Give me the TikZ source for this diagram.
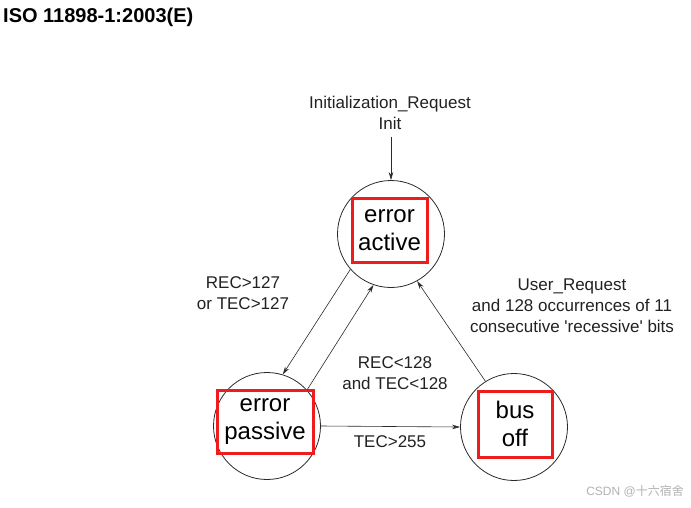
\documentclass[tikz,border=0pt]{standalone}
\usepackage{fontspec}
\setmainfont{Liberation Sans}
\newfontfamily\cjkfont{Noto Sans CJK SC}
\usetikzlibrary{arrows.meta}
\definecolor{ln}{HTML}{2A2A2A}
\definecolor{tx}{HTML}{222222}
\definecolor{redbox}{HTML}{EE1C1C}
\tikzset{
  state/.style={circle, draw=ln, line width=0.8pt, minimum size=107pt, inner sep=0pt},
  redlabel/.style={draw=redbox, line width=3pt, inner sep=0pt, align=center, text=black,
    font=\fontsize{24}{28}\selectfont},
  lbl/.style={align=center, text=tx, font=\fontsize{17}{21}\selectfont, inner sep=0pt},
  conn/.style={draw=ln, line width=0.6pt, -{Stealth[length=8pt,width=4.5pt]}}
}
\begin{document}
\begin{tikzpicture}[x=1pt,y=-1pt]
\useasboundingbox (0,0) rectangle (691,507);
\fill[white] (0,0) rectangle (691,507);
% title
\node[anchor=base west, inner sep=0pt, font=\fontsize{20}{24}\selectfont\bfseries] (title) at (3,22) {ISO 11898-1:2003(E)};
% states
\node[state] (active) at (391,234) {};
\node[state] (passive) at (267,426) {};
\node[state] (bus) at (514,427) {};
% red boxed labels
\node[redlabel, minimum width=75pt, minimum height=64pt] (activebox) at (389.5,230) {error\\active};
\node[redlabel, minimum width=96pt, minimum height=63pt] (passivebox) at (265,421.5) {error\\passive};
\node[redlabel, minimum width=74pt, minimum height=66pt] (busbox) at (515,424) {bus\\off};
% init
\node[lbl] (init) at (390,113) {Initialization\_Request\\Init};
\coordinate (initstart) at (391,137);
\draw[conn] (initstart) -- (active.north);
% transitions
\draw[conn] (active.221.6) -- (passive.73);
\draw[conn] (passive.42.8) -- (active.251.6);
\draw[conn] (passive.east) -- (bus.west);
\draw[conn] (bus.122.6) -- (active.299.6);
% labels
\node[lbl] (l1) at (243,293) {REC>127\\or TEC>127};
\node[lbl] (l2) at (395,373) {REC<128\\and TEC<128};
\node[lbl] (l3) at (390,442) {TEC>255};
\node[lbl] (l4) at (572,306) {User\_Request\\and 128 occurrences of 11\\consecutive \textquotesingle recessive\textquotesingle\ bits};
% watermark
\node[anchor=east, inner sep=0pt, text=black!30, font=\fontsize{12}{14}\selectfont] (wm) at (684,491) {CSDN @{\cjkfont 十六宿舍}};
\end{tikzpicture}
\end{document}
